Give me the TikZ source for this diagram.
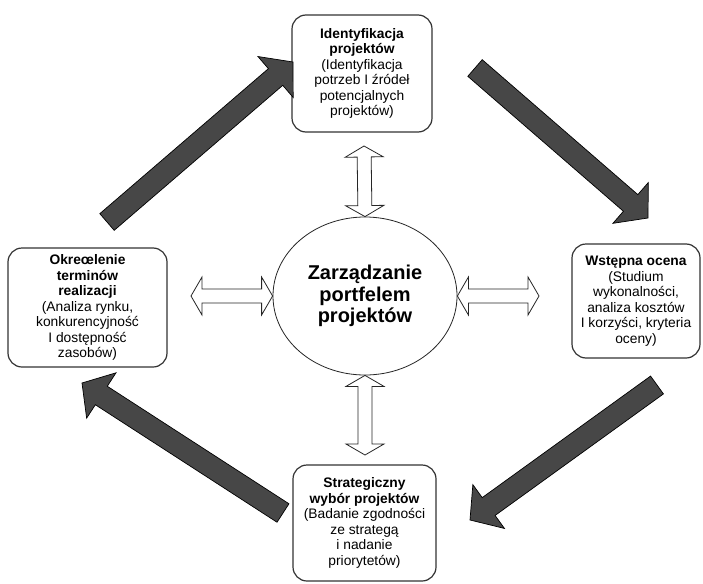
\documentclass[tikz,border=0pt]{standalone}
\usepackage{fontspec}
\setmainfont{Liberation Sans}
\usetikzlibrary{calc,shapes.geometric}

% Thick filled arrow from #1 (tail) to #2 (tip)
\newcommand\fatarrow[2]{%
  \coordinate (fhb) at ($(#2)!23pt!(#1)$);
  \draw[fatarrowstyle]
    ($(#1)!11pt!90:(#2)$) -- ($(fhb)!11pt!90:(#2)$) -- ($(fhb)!27pt!90:(#2)$)
    -- (#2)
    -- ($(fhb)!27pt!-90:(#2)$) -- ($(fhb)!11pt!-90:(#2)$) -- ($(#1)!11pt!-90:(#2)$)
    -- cycle;
}
% Hollow two-headed arrow between #1 and #2
\newcommand\hollowpair[2]{%
  \coordinate (hpa) at ($(#1)!11pt!(#2)$);
  \coordinate (hpb) at ($(#2)!11pt!(#1)$);
  \draw[hollowarrowstyle]
    (#1) -- ($(hpa)!19pt!90:(#2)$) -- ($(hpa)!7pt!90:(#2)$)
    -- ($(hpb)!7pt!-90:(#1)$) -- ($(hpb)!19pt!-90:(#1)$)
    -- (#2)
    -- ($(hpb)!19pt!90:(#1)$) -- ($(hpb)!7pt!90:(#1)$)
    -- ($(hpa)!7pt!-90:(#2)$) -- ($(hpa)!19pt!-90:(#2)$)
    -- cycle;
}

\begin{document}
\begin{tikzpicture}[x=1pt,y=-1pt,
  stagebox/.style={draw=black!80, line width=1.2pt, rounded corners=14pt,
    fill=white, align=center, inner sep=2pt,
    font=\fontsize{13.8}{15.5}\selectfont},
  hub/.style={draw=black!85, line width=0.8pt, ellipse, minimum width=184pt,
    minimum height=158pt, inner sep=0pt, align=center,
    font=\bfseries\fontsize{20}{21.5}\selectfont},
  fatarrowstyle/.style={fill=black!72, draw=black, line width=0.7pt, line join=miter},
  hollowarrowstyle/.style={fill=white, draw=black!85, line width=0.8pt, line join=miter}]

\useasboundingbox[fill=white] (0,0) rectangle (703,583);

% central ellipse
\node[hub] (hub) at (365,296) {Zarządzanie\\portfelem\\projektów};

% the four stages
\node[stagebox, minimum width=140pt, minimum height=117pt] (ident) at (362,73.5)
  {\textbf{Identyfikacja}\\\textbf{projektów}\\(Identyfikacja\\potrzeb I źródeł\\potencjalnych\\projektów)};
\node[stagebox, minimum width=128pt, minimum height=114pt] (ocena) at (636,301)
  {\textbf{Wstępna ocena}\\(Studium\\wykonalności,\\analiza kosztów\\I korzyści, kryteria\\oceny)};
\node[stagebox, minimum width=143pt, minimum height=116pt] (wybor) at (364.5,523)
  {\textbf{Strategiczny}\\\textbf{wybór projektów}\\(Badanie zgodności\\ze strategą\\i nadanie\\priorytetów)};
\node[stagebox, minimum width=159pt, minimum height=119pt] (termin) at (87.5,307.5)
  {\textbf{Okreœlenie}\\\textbf{terminów}\\\textbf{realizacji}\\(Analiza rynku,\\konkurencyjność\\I dostępność\\zasobów)};

% hollow links between the hub and the stages
\coordinate (linkTop) at (364,146);
\coordinate (linkBottom) at (365,455);
\coordinate (linkLeft) at (191,296);
\coordinate (linkRight) at (539,296);
\hollowpair{linkTop}{hub.north}
\hollowpair{hub.south}{linkBottom}
\hollowpair{linkLeft}{hub.west}
\hollowpair{hub.east}{linkRight}

% cycle arrows between the stages
\coordinate (c1a) at (107,222);  \coordinate (c1b) at (293,62);
\coordinate (c2a) at (475,68);   \coordinate (c2b) at (648,218);
\coordinate (c3a) at (657,385);  \coordinate (c3b) at (470,520);
\coordinate (c4a) at (283,513);  \coordinate (c4b) at (82,383);
\fatarrow{c1a}{c1b}
\fatarrow{c2a}{c2b}
\fatarrow{c3a}{c3b}
\fatarrow{c4a}{c4b}

\end{tikzpicture}
\end{document}
